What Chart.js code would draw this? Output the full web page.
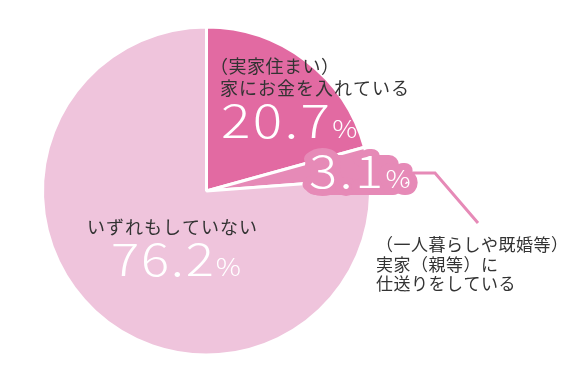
<!DOCTYPE html>
<html>
<head>
<meta charset="utf-8">
<script src="https://cdn.jsdelivr.net/npm/chart.js@4.4.0/dist/chart.umd.min.js"></script>
<style>
  html, body { margin: 0; padding: 0; background: #fff; }
  #wrap { width: 580px; height: 372px; position: relative; }
</style>
</head>
<body>
<div id="wrap"><canvas id="pieChart"></canvas></div>
<script>
// Data
const categories = ['実家に入金', '実家に仕送り', 'いずれもしていない'];
const values = [20.7, 3.1, 76.2];
const sliceColors = ['#e26aa2', '#e68ab7', '#efc4dc'];
const labelLines = [
  ['（実家住まい）', '家にお金を入れている'],
  ['（一人暮らしや既婚等）', '実家（親等）に', '仕送りをしている'],
  ['いずれもしていない']
];

const FONT = '"Noto Sans CJK JP", "Noto Sans", sans-serif';
const SX = 1.17; // digits are drawn a bit wider

// draws "20.7" big + "%" small, left aligned at x, baseline y; returns total width
function drawPct(ctx, text, x, y, big, small, spacing, mode) {
  ctx.save();
  ctx.translate(x, y);
  ctx.scale(SX, 1);
  ctx.letterSpacing = spacing + 'px';
  ctx.font = '300 ' + big + 'px ' + FONT;
  if (mode === 'stroke') ctx.strokeText(text, 0, 0); else ctx.fillText(text, 0, 0);
  const w = ctx.measureText(text).width;
  ctx.letterSpacing = '0px';
  ctx.font = '300 ' + small + 'px ' + FONT;
  if (mode === 'stroke') ctx.strokeText('%', w, 0); else ctx.fillText('%', w, 0);
  const w2 = ctx.measureText('%').width;
  ctx.restore();
  return (w + w2) * SX;
}

function drawLines(ctx, lines, x, y, size, gap, spacing) {
  ctx.fillStyle = '#333';
  ctx.letterSpacing = spacing + 'px';
  ctx.font = size + 'px ' + FONT;
  lines.forEach((line, i) => ctx.fillText(line, x, y + i * gap));
  ctx.letterSpacing = '0px';
}

const labelPlugin = {
  id: 'pieLabels',
  afterDraw(chart) {
    const ctx = chart.ctx;
    ctx.save();
    ctx.textBaseline = 'alphabetic';
    ctx.textAlign = 'left';

    // 20.7%
    drawLines(ctx, [labelLines[0][0]], 210, 73, 18, 0, 0.5);
    drawLines(ctx, [labelLines[0][1]], 220, 95, 18, 0, 1);
    ctx.fillStyle = '#fff';
    drawPct(ctx, values[0].toFixed(1), 221, 138, 47, 24, 2);

    // 76.2%
    drawLines(ctx, labelLines[2], 87, 234, 18, 0, 1);
    ctx.fillStyle = '#fff';
    drawPct(ctx, values[2].toFixed(1), 111, 276, 45, 24, 1.5);

    // leader line for 3.1%
    ctx.strokeStyle = sliceColors[1];
    ctx.lineWidth = 3;
    ctx.beginPath();
    ctx.moveTo(400, 173);
    ctx.lineTo(435, 173);
    ctx.lineTo(478, 223);
    ctx.stroke();

    // 3.1% bubble (outlined text on a rounded pad)
    const t = values[1].toFixed(1);
    const bx = 309, by = 188;
    ctx.fillStyle = sliceColors[1];
    ctx.beginPath();
    ctx.roundRect(bx - 4, by - 33, 94, 40, 10);
    ctx.fill();
    ctx.lineJoin = 'round';
    ctx.lineWidth = 14;
    ctx.strokeStyle = sliceColors[1];
    drawPct(ctx, t, bx, by, 45, 24, 2, 'stroke');
    ctx.fillStyle = '#fff';
    drawPct(ctx, t, bx, by, 45, 24, 2);

    // right label
    drawLines(ctx, labelLines[1], 376, 251, 17, 19.5, 0.5);
    ctx.restore();
  }
};

const pieCtx = document.getElementById('pieChart').getContext('2d');
const pieChart = new Chart(pieCtx, {
  type: 'pie',
  data: {
    labels: categories,
    datasets: [{
      data: values,
      backgroundColor: sliceColors,
      borderColor: '#fff',
      borderWidth: 3
    }]
  },
  options: {
    responsive: true,
    maintainAspectRatio: false,
    animation: false,
    layout: { padding: { left: 41, right: 208, top: 25, bottom: 15 } },
    plugins: { legend: { display: false }, tooltip: { enabled: false } }
  },
  plugins: [labelPlugin]
});
</script>
</body>
</html>
